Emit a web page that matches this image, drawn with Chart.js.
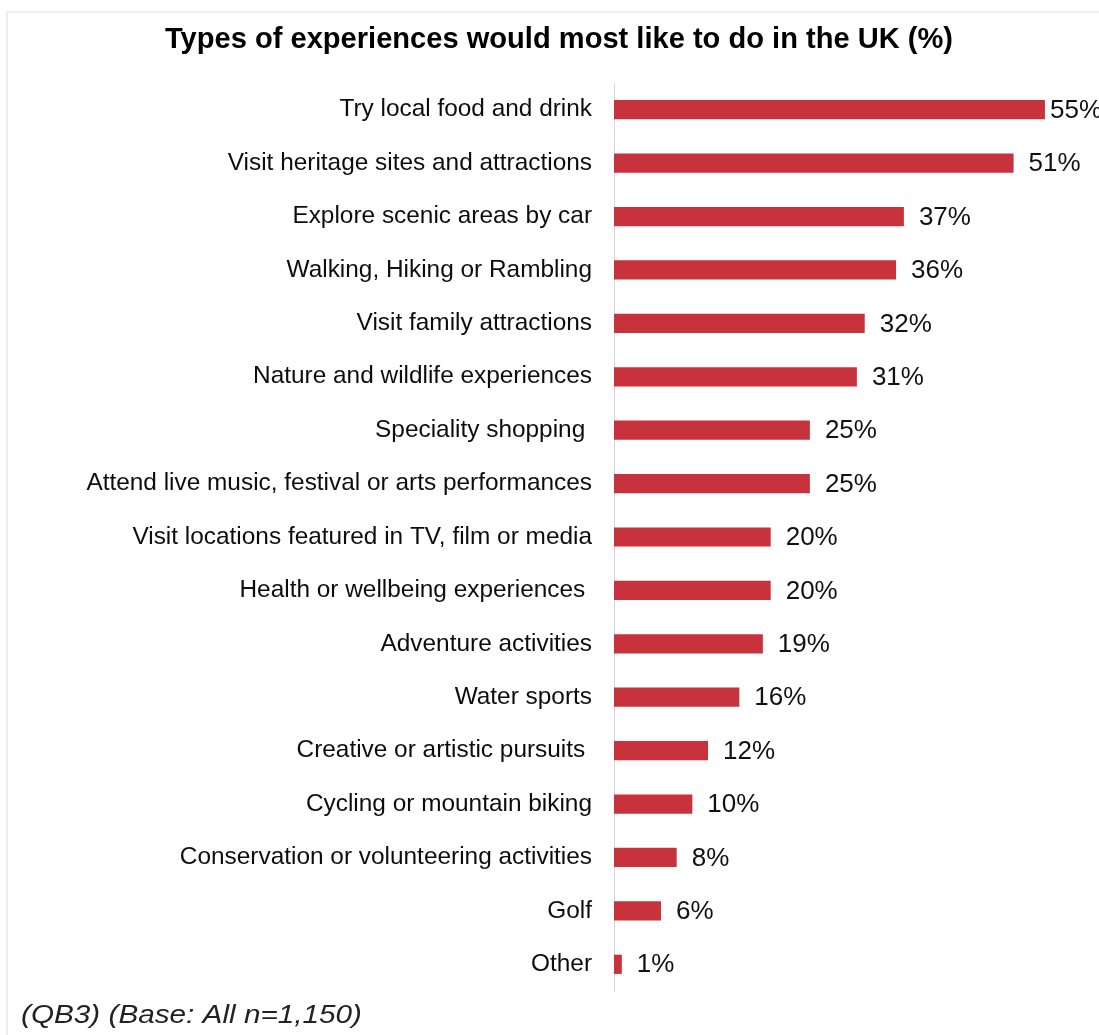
<!DOCTYPE html>
<html>
<head>
<meta charset="utf-8">
<script src="https://cdn.jsdelivr.net/npm/chart.js@4.4.1/dist/chart.umd.min.js"></script>
<style>
  html, body { margin: 0; padding: 0; background: #ffffff; }
  #wrap { position: relative; width: 1099px; height: 1035px; overflow: hidden; }
  #frame { position: absolute; left: 6px; top: 11px; right: -4px; bottom: -4px;
           border-top: 2px solid #eeeeee; border-left: 2px solid #eeeeee; }
  canvas { position: absolute; left: 0; top: 0; }
</style>
</head>
<body>
<div id="wrap">
  <div id="frame"></div>
  <canvas id="chart" width="1099" height="1035"></canvas>
</div>
<script>
// Survey answers: share of respondents choosing each experience (%)
const categories = [
  "Try local food and drink",
  "Visit heritage sites and attractions",
  "Explore scenic areas by car",
  "Walking, Hiking or Rambling",
  "Visit family attractions",
  "Nature and wildlife experiences",
  "Speciality shopping ",
  "Attend live music, festival or arts performances",
  "Visit locations featured in TV, film or media",
  "Health or wellbeing experiences ",
  "Adventure activities",
  "Water sports",
  "Creative or artistic pursuits ",
  "Cycling or mountain biking",
  "Conservation or volunteering activities",
  "Golf",
  "Other"
];
const shares = [55, 51, 37, 36, 32, 31, 25, 25, 20, 20, 19, 16, 12, 10, 8, 6, 1];

const titleText = "Types of experiences would most like to do in the UK (%)";
const footnoteText = "(QB3) (Base: All n=1,150)";

const BAR_RED = "#c8323c";
const FONT = "'Liberation Sans', Arial, sans-serif";

// Draws a single line of text squeezed or stretched to a given width
function fitText(ctx, text, x, y, width, yScale) {
  const w = ctx.measureText(text).width;
  ctx.save();
  ctx.translate(x, y);
  ctx.scale(width / w, yScale || 1);
  ctx.fillText(text, 0, 0);
  ctx.restore();
}

// Title, footnote and value labels drawn on the canvas
const textPlugin = {
  id: "textPlugin",
  afterDatasetsDraw(chart) {
    const ctx = chart.ctx;
    const meta = chart.getDatasetMeta(0);
    ctx.save();
    ctx.fillStyle = "#111111";
    ctx.font = "26px " + FONT;
    ctx.textAlign = "left";
    ctx.textBaseline = "middle";
    const maxStart = chart.chartArea.right - 49;
    meta.data.forEach((bar, i) => {
      const x = Math.min(bar.x + 15, maxStart);
      ctx.fillText(shares[i] + "%", x, bar.y + 1);
    });
    ctx.restore();

    // chart title
    ctx.save();
    ctx.fillStyle = "#000000";
    ctx.font = "bold 26px " + FONT;
    ctx.textBaseline = "alphabetic";
    ctx.textAlign = "center";
    fitText(ctx, titleText, 559, 48, 788, 1.1);
    ctx.restore();

    // footnote
    ctx.save();
    ctx.fillStyle = "#222222";
    ctx.font = "italic 26px " + FONT;
    ctx.textAlign = "left";
    ctx.textBaseline = "alphabetic";
    fitText(ctx, footnoteText, 21, 1023, 341, 1);
    ctx.restore();
  }
};

new Chart(document.getElementById("chart"), {
  type: "bar",
  data: {
    labels: categories,
    datasets: [{
      data: shares,
      backgroundColor: BAR_RED,
      borderWidth: 0,
      categoryPercentage: 1,
      barPercentage: 0.36
    }]
  },
  options: {
    indexAxis: "y",
    responsive: false,
    animation: false,
    layout: { padding: { top: 83, bottom: 44, left: 0, right: 0 } },
    plugins: {
      legend: { display: false },
      title: { display: false },
      tooltip: { enabled: false }
    },
    scales: {
      x: {
        display: false,
        min: 0,
        max: 61.9
      },
      y: {
        afterFit(scale) { scale.width = 614; },
        grid: { display: false, drawTicks: false },
        border: { display: true, color: "#d9d9d9", width: 1 },
        ticks: {
          color: "#0d0d0d",
          padding: 22,
          autoSkip: false,
          font: { family: FONT, size: 24.4 }
        }
      }
    }
  },
  plugins: [textPlugin]
});
</script>
</body>
</html>
